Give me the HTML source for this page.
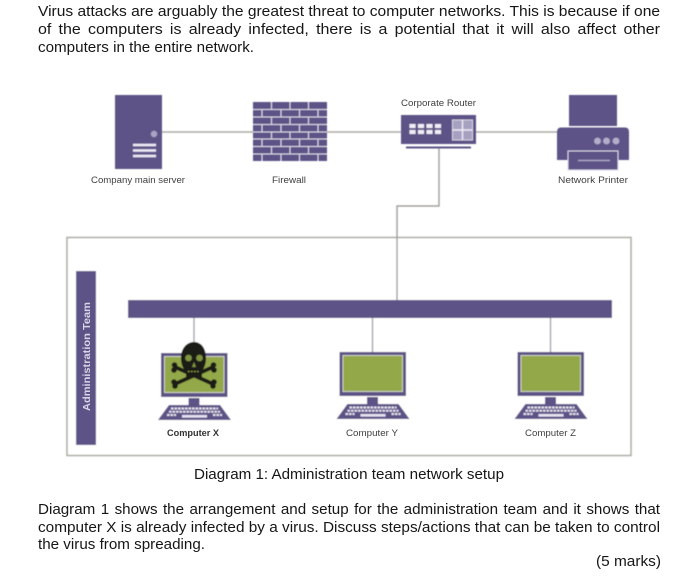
<!DOCTYPE html>
<html>
<head>
<meta charset="utf-8">
<style>
html,body{margin:0;padding:0;background:#fff;width:700px;height:577px;overflow:hidden}
svg{display:block;position:absolute;left:0;top:0}
.t{font-family:"Liberation Sans",Arial,sans-serif;font-size:15px;fill:#161616}
.l{font-family:"Liberation Sans",Arial,sans-serif;font-size:9px;fill:#404040}
.s{filter:url(#b)}
</style>
</head>
<body>
<svg width="700" height="577" viewBox="0 0 700 577" xmlns="http://www.w3.org/2000/svg">
<defs>
<filter id="b" x="-2%" y="-2%" width="104%" height="104%"><feGaussianBlur stdDeviation="0.45"/></filter>
<g id="pc">
  <rect x="0" y="0" width="66.5" height="44" fill="#5d5286"/>
  <rect x="3.5" y="3.5" width="59.5" height="36" fill="#93a848" stroke="#cfd3c4" stroke-width="1"/>
  <rect x="27.5" y="45" width="11" height="7" fill="#5d5286"/>
  <path d="M8 52H59L70 67H-3Z" fill="#5d5286"/>
  <path d="M10 55.5H57M8 58.7H59M6 62H15M52 62H61" stroke="#e6e3f0" stroke-width="2" stroke-dasharray="2.5 1" fill="none"/>
  <rect x="21" y="62" width="25" height="2.6" fill="#e6e3f0"/>
</g>
</defs>

<text class="t" x="38" y="16" textLength="622" lengthAdjust="spacingAndGlyphs">Virus attacks are arguably the greatest threat to computer networks. This is because if one</text>
<text class="t" x="38" y="34" textLength="622" lengthAdjust="spacingAndGlyphs" word-spacing="2.6">of the computers is already infected, there is a potential that it will also affect other</text>
<text class="t" x="38" y="52" textLength="216" lengthAdjust="spacingAndGlyphs">computers in the entire network.</text>

<g class="s">
  <rect x="67" y="237.500" width="564" height="218" fill="#fff" stroke="#a9aba2" stroke-width="1.5"/>
  <path d="M162 132H253M327 132H401M476 132H557" stroke="#a9a9a4" stroke-width="1.4" fill="none"/>
  <path d="M439 147V206H397V300" stroke="#a09f9a" stroke-width="1.4" fill="none"/>
  <path d="M194 318V342M372.500 318V352M550.500 318V352" stroke="#a3a3ae" stroke-width="1.4" fill="none"/>

  <!-- server -->
  <rect x="115" y="95" width="47" height="74" fill="#5d5286"/>
  <circle cx="154" cy="134" r="3.200" fill="#a9a4c4"/>
  <path d="M133 145H156M133 150.500H156M133 156H156" stroke="#eeeaf6" stroke-width="2.400" fill="none"/>

  <!-- firewall -->
  <rect x="253" y="102" width="74" height="59" fill="#5d5286"/>
  <path d="M253 109.500H327M253 117H327M253 124.500H327M253 132H327M253 139H327M253 146.500H327M253 154H327" stroke="#dcd8e8" stroke-width="1.100" fill="none"/>
  <path d="M271.500 102V109.500M290 102V109.500M308.500 102V109.500M262 109.500V117M281 109.500V117M299.500 109.500V117M318 109.500V117M271.500 117V124.500M290 117V124.500M308.500 117V124.500M262 124.500V132M281 124.500V132M299.500 124.500V132M318 124.500V132M271.500 132V139M290 132V139M308.500 132V139M262 139V146.500M281 139V146.500M299.500 139V146.500M318 139V146.500M271.500 146.500V154M290 146.500V154M308.500 146.500V154M262 154V161M281 154V161M299.500 154V161M318 154V161" stroke="#dcd8e8" stroke-width="1.100" fill="none"/>

  <!-- router -->
  <rect x="401" y="115" width="75" height="29" fill="#5d5286"/>
  <path d="M409.500 126H441.500M409.500 132H441.500" stroke="#f0edf7" stroke-width="4" stroke-dasharray="6 2.500" fill="none"/>
  <rect x="452.500" y="120" width="20" height="20" fill="#a6a1c0" stroke="#d6d3e4" stroke-width="1"/>
  <path d="M462.500 120V140M452.500 130H472.500" stroke="#eeeaf6" stroke-width="1.500" fill="none"/>
  <rect x="406" y="146.500" width="65" height="2" fill="#5d5286"/>

  <!-- printer -->
  <rect x="569" y="95" width="48" height="31" fill="#5d5286"/>
  <path d="M561 127.500H625Q629 127.500 629 132V160H557V132Q557 127.500 561 127.500Z" fill="#5d5286"/>
  <circle cx="597.500" cy="141" r="3.400" fill="#b3afcb"/>
  <circle cx="606.500" cy="141" r="3.400" fill="#b3afcb"/>
  <circle cx="616" cy="141" r="3.400" fill="#b3afcb"/>
  <rect x="568" y="151" width="50" height="19" fill="#5d5286" stroke="#d9d5e6" stroke-width="1"/>
  <path d="M578 160.500H610" stroke="#b3afcb" stroke-width="1.200"/>

  <!-- bars -->
  <rect x="128" y="300" width="484" height="18" fill="#5d5286"/>
  <rect x="76" y="271" width="20" height="174" fill="#5d5286"/>

  <use href="#pc" transform="translate(161 353)"/>
  <use href="#pc" transform="translate(339.500 352)"/>
  <use href="#pc" transform="translate(517.500 352)"/>

  <!-- skull -->
  <g fill="#1e1b18">
    <path d="M181 358C181 348 187 342 194 342C201 342 206 348 206 358C206 366 203 369 202 372V377H186V372C184 369 181 366 181 358Z"/>
    <g stroke="#1e1b18" stroke-width="3.800" stroke-linecap="round">
      <path d="M175 367L213 384"/>
      <path d="M213 367L175 384"/>
    </g>
    <circle cx="174.500" cy="365" r="2.800"/><circle cx="174" cy="370" r="2.800"/>
    <circle cx="213.500" cy="365" r="2.800"/><circle cx="214" cy="370" r="2.800"/>
    <circle cx="174" cy="382" r="2.800"/><circle cx="175" cy="386" r="2.800"/>
    <circle cx="214" cy="382" r="2.800"/><circle cx="213" cy="386" r="2.800"/>
  </g>
  <circle cx="188.500" cy="358" r="3.300" fill="#7f9440"/>
  <circle cx="199.500" cy="358" r="3.300" fill="#7f9440"/>
  <path d="M194 362L192 367H196Z" fill="#7f9440"/>
  <path d="M188 371.500H200" stroke="#93a848" stroke-width="1" stroke-dasharray="1.500 1.500"/>
</g>

<text class="l" x="91" y="183" textLength="94" lengthAdjust="spacingAndGlyphs">Company main server</text>
<text class="l" x="272" y="183" textLength="34" lengthAdjust="spacingAndGlyphs">Firewall</text>
<text class="l" x="401" y="106" textLength="75" lengthAdjust="spacingAndGlyphs">Corporate Router</text>
<text class="l" x="558" y="183" textLength="70" lengthAdjust="spacingAndGlyphs">Network Printer</text>
<text class="l" x="167" y="436" textLength="52" lengthAdjust="spacingAndGlyphs" style="font-weight:bold;fill:#333">Computer X</text>
<text class="l" x="346" y="436" textLength="52" lengthAdjust="spacingAndGlyphs">Computer Y</text>
<text class="l" x="525" y="436" textLength="51" lengthAdjust="spacingAndGlyphs">Computer Z</text>
<text class="l" transform="translate(90 411) rotate(-90)" textLength="109" lengthAdjust="spacingAndGlyphs" style="font-size:10px;font-weight:bold;fill:#d8d5e6">Administration Team</text>

<text class="t" x="194" y="479" textLength="310" lengthAdjust="spacingAndGlyphs">Diagram 1: Administration team network setup</text>
<text class="t" x="38" y="514" textLength="622" lengthAdjust="spacingAndGlyphs" word-spacing="1.200">Diagram 1 shows the arrangement and setup for the administration team and it shows that</text>
<text class="t" x="38" y="532" textLength="622" lengthAdjust="spacingAndGlyphs">computer X is already infected by a virus. Discuss steps/actions that can be taken to control</text>
<text class="t" x="38" y="549" textLength="167" lengthAdjust="spacingAndGlyphs">the virus from spreading.</text>
<text class="t" x="596" y="566" textLength="65" lengthAdjust="spacingAndGlyphs">(5 marks)</text>
</svg>
</body>
</html>
